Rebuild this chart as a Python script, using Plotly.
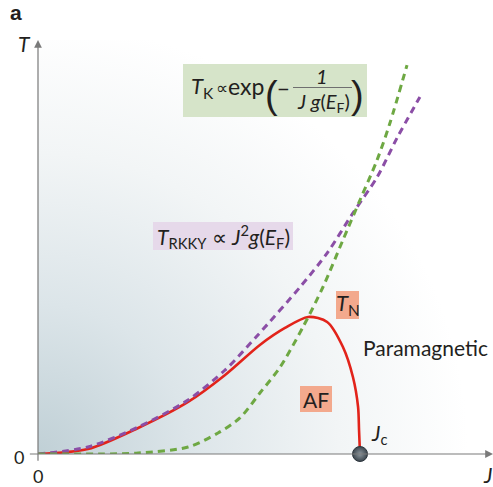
import base64
import plotly.graph_objects as go

# ---------------- data (J in units of J_c, T in units of max T_N) ----------------
J_red = [0, 0.155, 0.311, 0.466, 0.581, 0.689, 0.767, 0.839, 0.898, 0.947, 0.978, 0.994, 0.997, 1.0]
T_red = [0, 0.036, 0.190, 0.380, 0.577, 0.796, 0.920, 1.000, 0.964, 0.781, 0.562, 0.343, 0.175, 0]

J_purple = [0, 0.155, 0.311, 0.466, 0.581, 0.683, 0.814, 0.898, 0.978, 1.053, 1.115, 1.186]
T_purple = [0, 0.051, 0.197, 0.394, 0.613, 0.869, 1.219, 1.467, 1.759, 2.020, 2.307, 2.606]

J_green = [0, 0.193, 0.311, 0.466, 0.559, 0.627, 0.689, 0.752, 0.823, 0.885, 0.947, 1.0, 1.053, 1.093, 1.146]
T_green = [0, 0, 0.007, 0.051, 0.153, 0.263, 0.445, 0.635, 0.927, 1.219, 1.562, 1.854, 2.146, 2.416, 2.839]

J_crit = [1.0]
T_crit = [0]

X_MAX = 1.413
Y_MAX = 3.022

# ---------------- layout helpers ----------------
W, H = 493, 487
L, R, T, B = 38, 0, 40, 33
PW, PH = W - L - R, H - T - B


def px(x):
    return (x - L) / PW


def py(y):
    return (H - B - y) / PH


FONT = "Lato"
TXT = "#231f20"

fig = go.Figure()

fig.add_trace(go.Scatter(x=J_red, y=T_red, mode="lines", line=dict(color="#e2231a", width=2.6, shape="spline", smoothing=0.8),
                         cliponaxis=False, hoverinfo="skip"))
fig.add_trace(go.Scatter(x=J_purple, y=T_purple, mode="lines", line=dict(color="#8b4ea6", width=3, dash="7px,5px", shape="spline", smoothing=0.8),
                         cliponaxis=False, hoverinfo="skip"))
fig.add_trace(go.Scatter(x=J_green, y=T_green, mode="lines", line=dict(color="#6ea843", width=3, dash="7px,5px", shape="spline", smoothing=0.8),
                         cliponaxis=False, hoverinfo="skip"))
fig.add_trace(go.Scatter(x=J_crit, y=T_crit, mode="markers",
                         marker=dict(size=15, color="#3b454d", gradient=dict(type="radial", color="#8d979e"),
                                     line=dict(color="#2c353c", width=1)),
                         cliponaxis=False, hoverinfo="skip"))

# background gradient as an SVG image
svg = f"""<svg xmlns='http://www.w3.org/2000/svg' width='{PW}' height='{PH}' viewBox='0 0 {PW} {PH}' preserveAspectRatio='none'>
<defs><radialGradient id='g' cx='0' cy='{PH}' r='430' gradientUnits='userSpaceOnUse'>
<stop offset='0' stop-color='#c0d0d6'/><stop offset='0.35' stop-color='#dce5e9'/>
<stop offset='0.7' stop-color='#f2f5f6'/><stop offset='1' stop-color='#ffffff'/></radialGradient></defs>
<rect width='{PW}' height='{PH}' fill='url(#g)'/></svg>"""
uri = "data:image/svg+xml;base64," + base64.b64encode(svg.encode()).decode()
fig.add_layout_image(dict(source=uri, xref="paper", yref="paper", x=0, y=1, sizex=1, sizey=1,
                          sizing="stretch", xanchor="left", yanchor="top", layer="below"))

shapes = []


def box(x0, y0, x1, y1, color):
    shapes.append(dict(type="rect", xref="paper", yref="paper", x0=px(x0), x1=px(x1), y0=py(y1), y1=py(y0),
                       fillcolor=color, line=dict(width=0), layer="above"))


box(183, 64, 367, 117, "#d6e4c9")
box(153, 222, 293, 250, "#e6d9ea")
box(336, 291, 359, 319, "#f3a98d")
box(300, 386, 332, 412, "#f3a98d")
# fraction bar
shapes.append(dict(type="line", xref="paper", yref="paper", x0=px(293), x1=px(352), y0=py(87.5), y1=py(87.5),
                   line=dict(color="#6f6f6f", width=1), layer="above"))
fig.update_layout(shapes=shapes)

ann = []


def text(x, y, s, size=20, xanchor="center", color=TXT, family=FONT):
    ann.append(dict(x=px(x), y=py(y), xref="paper", yref="paper", text=s, showarrow=False,
                    xanchor=xanchor, yanchor="middle", font=dict(size=size, color=color, family=family)))


# T_K formula
text(189, 87, "<i>T</i><sub>K</sub>", 22, "left")
text(222, 88, "∝", 17, "center")
text(266, 86, "exp", 23, "right")
text(271, 95, "(", 38, "center", family="Liberation Sans")
text(283, 89, "−", 22, "center")
text(322, 76, "<i>1</i>", 20, "center")
text(323, 102, "<i>J g</i>(<i>E</i><sub>F</sub>)", 20, "center")
text(357, 95, ")", 38, "center", family="Liberation Sans")
# T_RKKY
text(223, 236, "<i>T</i><sub>RKKY</sub> ∝ <i>J</i><sup>2</sup><i>g</i>(<i>E</i><sub>F</sub>)", 21, "center")
# T_N, AF, Paramagnetic
text(347.5, 304, "<i>T</i><sub>N</sub>", 22, "center")
text(316, 399, "AF", 21, "center")
text(361, 347, "Paramagnetic", 21, "left")
# J_c
text(369, 434, "<i>J</i><sub>c</sub>", 21, "left")
# axis labels
text(19, 457, "0", 18)
text(38, 476, "0", 18)
text(24, 43, "<i>T</i>", 21)
text(487, 474, "<i>J</i>", 21)
text(16, 13, "<b>a</b>", 21, family="Arial")

# axis arrows
ann.append(dict(x=X_MAX, y=0, ax=-0.03, ay=0, xref="x", yref="y", axref="x", ayref="y", text="", showarrow=True,
                arrowhead=2, arrowsize=1.3, arrowwidth=1.2, arrowcolor="#7a7a7a", standoff=0))
ann.append(dict(x=0, y=Y_MAX, ax=0, ay=-0.06, xref="x", yref="y", axref="x", ayref="y", text="", showarrow=True,
                arrowhead=2, arrowsize=1.3, arrowwidth=1.2, arrowcolor="#7a7a7a", standoff=0))
fig.update_layout(annotations=ann)

fig.update_layout(
    width=W, height=H,
    margin=dict(l=L, r=R, t=T, b=B, autoexpand=False),
    paper_bgcolor="white", plot_bgcolor="white",
    showlegend=False,
    xaxis=dict(range=[0, X_MAX], visible=False, fixedrange=True),
    yaxis=dict(range=[0, Y_MAX], visible=False, fixedrange=True),
)

fig.write_html("out.html")
